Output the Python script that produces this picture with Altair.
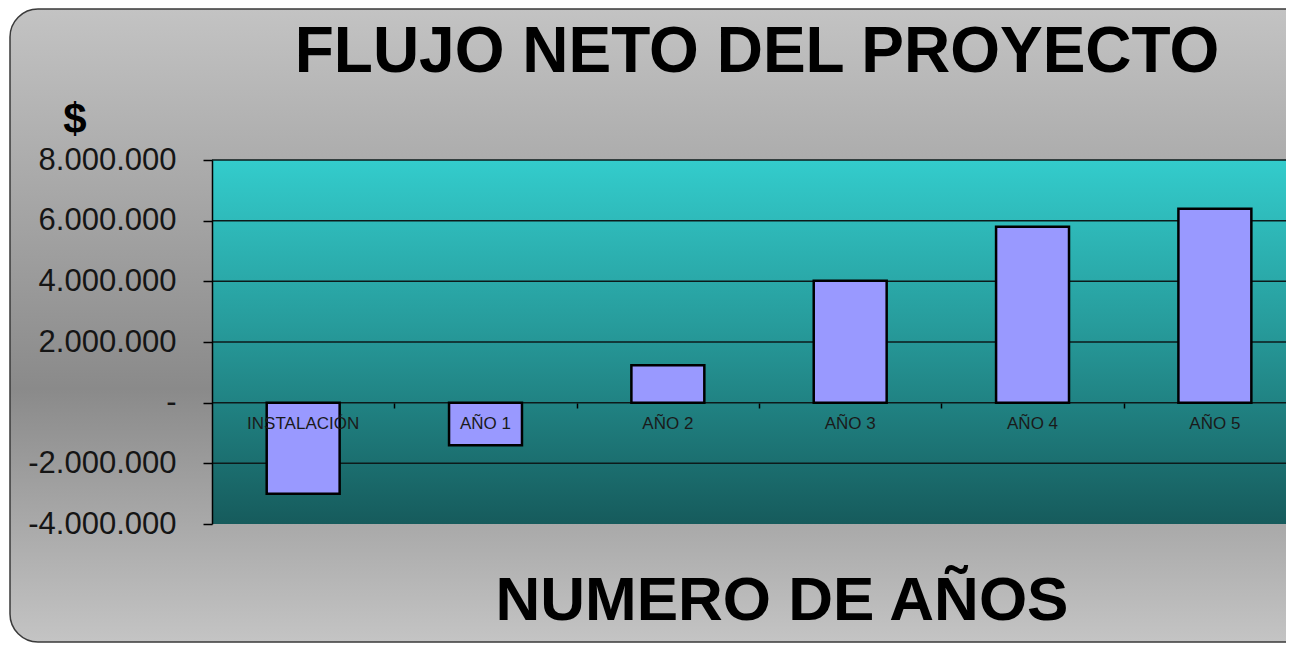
import altair as alt
import pandas as pd

categorias = ["INSTALACIÓN", "AÑO 1", "AÑO 2", "AÑO 3", "AÑO 4", "AÑO 5"]
flujo = [-3000000, -1400000, 1230000, 4020000, 5800000, 6390000]
y_ticks = [-4000000, -2000000, 0, 2000000, 4000000, 6000000, 8000000]
grid_values = [-2000000, 0, 2000000, 4000000, 6000000, 8000000]
limites = [0.5, 1.5, 2.5, 3.5, 4.5]

titulo = "FLUJO NETO DEL PROYECTO"
titulo_x = "NUMERO DE AÑOS"
titulo_y = "$"

W, H = 1074, 364
FONT = "Liberation Sans"

df = pd.DataFrame({"cat": categorias, "valor": flujo, "idx": list(range(len(categorias)))})
one = pd.DataFrame({"k": [0]})

xscale = alt.Scale(domain=[-0.5, 5.39], nice=False, zero=False)
yscale = alt.Scale(domain=[-4000000, 8000000], nice=False)

xaxis = alt.Axis(values=limites, labels=False, domain=False, ticks=True, tickSize=5,
                 tickColor="black", tickWidth=1.5, grid=False, title=None, offset=-121, zindex=1)
yaxis = alt.Axis(values=y_ticks,
                 labelExpr="datum.value == 0 ? '-' : replace(replace(replace(format(datum.value, ','), ',', '.'), ',', '.'), '\u2212', '-')",
                 labelFontSize=31, labelFont=FONT, labelColor="#151515", labelPadding=27,
                 tickSize=9, tickColor="black", tickWidth=1.5, domainColor="black", domainWidth=1.5,
                 grid=False, title=None, zindex=1)

grey_grad = alt.LinearGradient(gradient="linear", x1=0, x2=0, y1=0, y2=1, stops=[
    alt.GradientStop(color="#c3c3c3", offset=0),
    alt.GradientStop(color="#8a8a8a", offset=0.6),
    alt.GradientStop(color="#c4c4c4", offset=1),
])
teal_grad = alt.LinearGradient(gradient="linear", x1=0, x2=0, y1=0, y2=1, stops=[
    alt.GradientStop(color="#33cccc", offset=0),
    alt.GradientStop(color="#279c9c", offset=0.45),
    alt.GradientStop(color="#165b5c", offset=1),
])

frame = alt.Chart(one).mark_rect(cornerRadius=28, fill=grey_grad, stroke="#3a3a3a", strokeWidth=1.5).encode(
    x=alt.value(-202), x2=alt.value(W + 60), y=alt.value(-151), y2=alt.value(H + 118)
)

plot_bg = alt.Chart(one).mark_rect(fill=teal_grad).encode(
    x=alt.value(0), x2=alt.value(W), y=alt.value(0), y2=alt.value(H)
)

grid = alt.Chart(pd.DataFrame({"g": grid_values})).mark_rule(color="#0d1a1a", strokeWidth=1.5).encode(
    y=alt.Y("g:Q", scale=yscale, axis=yaxis)
)

bars = alt.Chart(df).transform_calculate(
    x0="datum.idx - 0.2", x1="datum.idx + 0.2"
).mark_rect(fill="#9999ff", stroke="black", strokeWidth=2.5).encode(
    x=alt.X("x0:Q", scale=xscale, axis=xaxis),
    x2="x1:Q",
    y=alt.Y("valor:Q", scale=yscale, axis=yaxis),
    y2=alt.datum(0),
)

labels = alt.Chart(df).mark_text(dy=21, fontSize=17, font=FONT, color="#1a1a1a", baseline="middle").encode(
    x=alt.X("idx:Q", scale=xscale, axis=xaxis),
    y=alt.datum(0),
    text="cat:N",
)

t_main = alt.Chart(one).mark_text(text=titulo, fontSize=64, fontWeight="bold", font=FONT, color="black",
                                  align="center", baseline="alphabetic").encode(
    x=alt.value(545), y=alt.value(-88)
)
t_x = alt.Chart(one).mark_text(text=titulo_x, fontSize=62, fontWeight="bold", font=FONT, color="black",
                               align="center", baseline="alphabetic").encode(
    x=alt.value(570), y=alt.value(460)
)
t_y = alt.Chart(one).mark_text(text=titulo_y, fontSize=42, fontWeight="bold", font=FONT, color="black",
                               align="center", baseline="alphabetic").encode(
    x=alt.value(-137), y=alt.value(-27)
)

chart = alt.layer(frame, plot_bg, grid, bars, labels, t_main, t_x, t_y).properties(
    width=W, height=H,
    autosize="none",
    padding={"left": 204, "top": 152, "right": 0, "bottom": 120},
    background="white",
).configure_view(stroke=None)

chart.save("out.html", embed_options={"renderer": "svg", "actions": False})
